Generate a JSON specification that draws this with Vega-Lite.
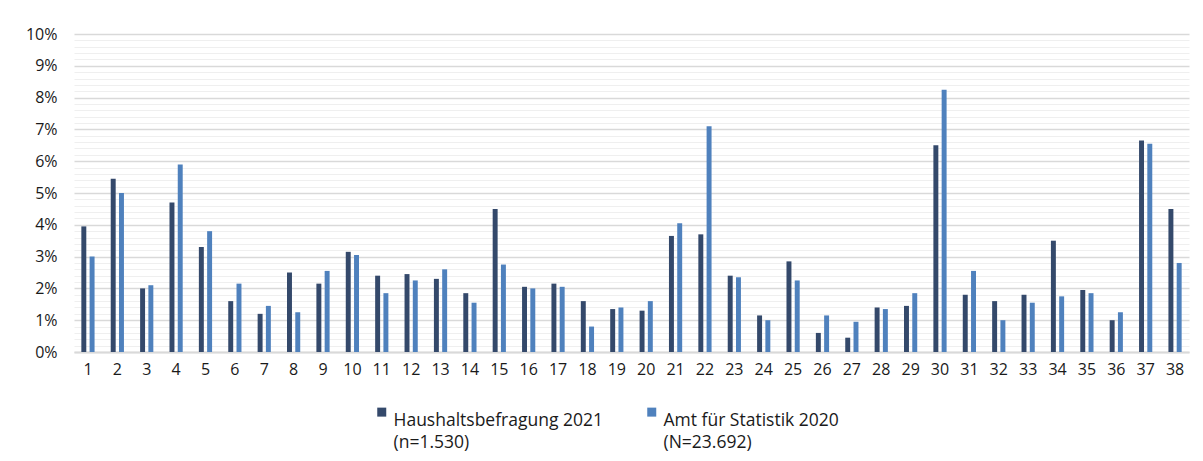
{
  "$schema": "https://vega.github.io/schema/vega-lite/v6.json",
  "width": 1115,
  "height": 318,
  "autosize": {"type": "none"},
  "padding": {"left": 74, "top": 34, "right": 14, "bottom": 109},
  "background": "white",
  "config": {
    "font": "Open Sans",
    "view": {"stroke": null},
    "axis": {"labelFont": "Open Sans", "labelColor": "#1a1a1a", "labelFontSize": 16},
    "legend": {"labelFont": "Open Sans", "labelColor": "#1a1a1a", "labelFontSize": 17.5}
  },
  "datasets": {
    "anteile": [
      {"k": 1, "serie": "Haushaltsbefragung 2021|(n=1.530)", "v": 0.0395},
      {"k": 1, "serie": "Amt für Statistik 2020|(N=23.692)", "v": 0.030},
      {"k": 2, "serie": "Haushaltsbefragung 2021|(n=1.530)", "v": 0.0545},
      {"k": 2, "serie": "Amt für Statistik 2020|(N=23.692)", "v": 0.050},
      {"k": 3, "serie": "Haushaltsbefragung 2021|(n=1.530)", "v": 0.020},
      {"k": 3, "serie": "Amt für Statistik 2020|(N=23.692)", "v": 0.021},
      {"k": 4, "serie": "Haushaltsbefragung 2021|(n=1.530)", "v": 0.047},
      {"k": 4, "serie": "Amt für Statistik 2020|(N=23.692)", "v": 0.059},
      {"k": 5, "serie": "Haushaltsbefragung 2021|(n=1.530)", "v": 0.033},
      {"k": 5, "serie": "Amt für Statistik 2020|(N=23.692)", "v": 0.038},
      {"k": 6, "serie": "Haushaltsbefragung 2021|(n=1.530)", "v": 0.016},
      {"k": 6, "serie": "Amt für Statistik 2020|(N=23.692)", "v": 0.0215},
      {"k": 7, "serie": "Haushaltsbefragung 2021|(n=1.530)", "v": 0.012},
      {"k": 7, "serie": "Amt für Statistik 2020|(N=23.692)", "v": 0.0145},
      {"k": 8, "serie": "Haushaltsbefragung 2021|(n=1.530)", "v": 0.025},
      {"k": 8, "serie": "Amt für Statistik 2020|(N=23.692)", "v": 0.0125},
      {"k": 9, "serie": "Haushaltsbefragung 2021|(n=1.530)", "v": 0.0215},
      {"k": 9, "serie": "Amt für Statistik 2020|(N=23.692)", "v": 0.0255},
      {"k": 10, "serie": "Haushaltsbefragung 2021|(n=1.530)", "v": 0.0315},
      {"k": 10, "serie": "Amt für Statistik 2020|(N=23.692)", "v": 0.0305},
      {"k": 11, "serie": "Haushaltsbefragung 2021|(n=1.530)", "v": 0.024},
      {"k": 11, "serie": "Amt für Statistik 2020|(N=23.692)", "v": 0.0185},
      {"k": 12, "serie": "Haushaltsbefragung 2021|(n=1.530)", "v": 0.0245},
      {"k": 12, "serie": "Amt für Statistik 2020|(N=23.692)", "v": 0.0225},
      {"k": 13, "serie": "Haushaltsbefragung 2021|(n=1.530)", "v": 0.023},
      {"k": 13, "serie": "Amt für Statistik 2020|(N=23.692)", "v": 0.026},
      {"k": 14, "serie": "Haushaltsbefragung 2021|(n=1.530)", "v": 0.0185},
      {"k": 14, "serie": "Amt für Statistik 2020|(N=23.692)", "v": 0.0155},
      {"k": 15, "serie": "Haushaltsbefragung 2021|(n=1.530)", "v": 0.045},
      {"k": 15, "serie": "Amt für Statistik 2020|(N=23.692)", "v": 0.0275},
      {"k": 16, "serie": "Haushaltsbefragung 2021|(n=1.530)", "v": 0.0205},
      {"k": 16, "serie": "Amt für Statistik 2020|(N=23.692)", "v": 0.020},
      {"k": 17, "serie": "Haushaltsbefragung 2021|(n=1.530)", "v": 0.0215},
      {"k": 17, "serie": "Amt für Statistik 2020|(N=23.692)", "v": 0.0205},
      {"k": 18, "serie": "Haushaltsbefragung 2021|(n=1.530)", "v": 0.016},
      {"k": 18, "serie": "Amt für Statistik 2020|(N=23.692)", "v": 0.008},
      {"k": 19, "serie": "Haushaltsbefragung 2021|(n=1.530)", "v": 0.0135},
      {"k": 19, "serie": "Amt für Statistik 2020|(N=23.692)", "v": 0.014},
      {"k": 20, "serie": "Haushaltsbefragung 2021|(n=1.530)", "v": 0.013},
      {"k": 20, "serie": "Amt für Statistik 2020|(N=23.692)", "v": 0.016},
      {"k": 21, "serie": "Haushaltsbefragung 2021|(n=1.530)", "v": 0.0365},
      {"k": 21, "serie": "Amt für Statistik 2020|(N=23.692)", "v": 0.0405},
      {"k": 22, "serie": "Haushaltsbefragung 2021|(n=1.530)", "v": 0.037},
      {"k": 22, "serie": "Amt für Statistik 2020|(N=23.692)", "v": 0.071},
      {"k": 23, "serie": "Haushaltsbefragung 2021|(n=1.530)", "v": 0.024},
      {"k": 23, "serie": "Amt für Statistik 2020|(N=23.692)", "v": 0.0235},
      {"k": 24, "serie": "Haushaltsbefragung 2021|(n=1.530)", "v": 0.0115},
      {"k": 24, "serie": "Amt für Statistik 2020|(N=23.692)", "v": 0.010},
      {"k": 25, "serie": "Haushaltsbefragung 2021|(n=1.530)", "v": 0.0285},
      {"k": 25, "serie": "Amt für Statistik 2020|(N=23.692)", "v": 0.0225},
      {"k": 26, "serie": "Haushaltsbefragung 2021|(n=1.530)", "v": 0.006},
      {"k": 26, "serie": "Amt für Statistik 2020|(N=23.692)", "v": 0.0115},
      {"k": 27, "serie": "Haushaltsbefragung 2021|(n=1.530)", "v": 0.0045},
      {"k": 27, "serie": "Amt für Statistik 2020|(N=23.692)", "v": 0.0095},
      {"k": 28, "serie": "Haushaltsbefragung 2021|(n=1.530)", "v": 0.014},
      {"k": 28, "serie": "Amt für Statistik 2020|(N=23.692)", "v": 0.0135},
      {"k": 29, "serie": "Haushaltsbefragung 2021|(n=1.530)", "v": 0.0145},
      {"k": 29, "serie": "Amt für Statistik 2020|(N=23.692)", "v": 0.0185},
      {"k": 30, "serie": "Haushaltsbefragung 2021|(n=1.530)", "v": 0.065},
      {"k": 30, "serie": "Amt für Statistik 2020|(N=23.692)", "v": 0.0825},
      {"k": 31, "serie": "Haushaltsbefragung 2021|(n=1.530)", "v": 0.018},
      {"k": 31, "serie": "Amt für Statistik 2020|(N=23.692)", "v": 0.0255},
      {"k": 32, "serie": "Haushaltsbefragung 2021|(n=1.530)", "v": 0.016},
      {"k": 32, "serie": "Amt für Statistik 2020|(N=23.692)", "v": 0.010},
      {"k": 33, "serie": "Haushaltsbefragung 2021|(n=1.530)", "v": 0.018},
      {"k": 33, "serie": "Amt für Statistik 2020|(N=23.692)", "v": 0.0155},
      {"k": 34, "serie": "Haushaltsbefragung 2021|(n=1.530)", "v": 0.035},
      {"k": 34, "serie": "Amt für Statistik 2020|(N=23.692)", "v": 0.0175},
      {"k": 35, "serie": "Haushaltsbefragung 2021|(n=1.530)", "v": 0.0195},
      {"k": 35, "serie": "Amt für Statistik 2020|(N=23.692)", "v": 0.0185},
      {"k": 36, "serie": "Haushaltsbefragung 2021|(n=1.530)", "v": 0.010},
      {"k": 36, "serie": "Amt für Statistik 2020|(N=23.692)", "v": 0.0125},
      {"k": 37, "serie": "Haushaltsbefragung 2021|(n=1.530)", "v": 0.0665},
      {"k": 37, "serie": "Amt für Statistik 2020|(N=23.692)", "v": 0.0655},
      {"k": 38, "serie": "Haushaltsbefragung 2021|(n=1.530)", "v": 0.045},
      {"k": 38, "serie": "Amt für Statistik 2020|(N=23.692)", "v": 0.028}
    ]
  },
  "data": {"name": "anteile"},
  "layer": [
    {
      "mark": {"type": "bar", "opacity": 0},
      "encoding": {
        "x": {"field": "k", "type": "ordinal", "scale": {"paddingInner": 0.55, "paddingOuter": 0.25},
              "axis": {"title": null, "labelAngle": 0, "ticks": false, "labelPadding": 9, "domainColor": "#d9d9d9", "domainWidth": 2}},
        "y": {"field": "v", "type": "quantitative", "scale": {"domain": [0, 0.1]},
              "axis": {"orient": "left", "title": null, "labels": false, "ticks": false, "domain": false,
                       "values": [0.002,0.004,0.006,0.008,0.012,0.014,0.016,0.018,0.022,0.024,0.026,0.028,0.032,0.034,0.036,0.038,0.042,0.044,0.046,0.048,0.052,0.054,0.056,0.058,0.062,0.064,0.066,0.068,0.072,0.074,0.076,0.078,0.082,0.084,0.086,0.088,0.092,0.094,0.096,0.098],
                       "grid": true, "gridColor": "#efefef", "gridWidth": 1}}
      }
    },
    {
      "mark": {"type": "bar"},
      "encoding": {
        "x": {"field": "k", "type": "ordinal", "scale": {"paddingInner": 0.55, "paddingOuter": 0.25},
              "axis": {"title": null, "labelAngle": 0, "ticks": false, "labelPadding": 9, "domainColor": "#d9d9d9", "domainWidth": 2}},
        "xOffset": {"field": "serie", "type": "nominal", "sort": ["Haushaltsbefragung 2021|(n=1.530)", "Amt für Statistik 2020|(N=23.692)"], "scale": {"paddingInner": 0.4}},
        "y": {"field": "v", "type": "quantitative", "scale": {"domain": [0, 0.1]},
              "axis": {"orient": "left", "title": null, "format": ".0%", "values": [0,0.01,0.02,0.03,0.04,0.05,0.06,0.07,0.08,0.09,0.1],
                       "ticks": false, "domain": false, "labelPadding": 17, "grid": true, "gridColor": "#d9d9d9", "gridWidth": 1.5}},
        "color": {"field": "serie", "type": "nominal",
                  "scale": {"domain": ["Haushaltsbefragung 2021|(n=1.530)", "Amt für Statistik 2020|(N=23.692)"], "range": ["#34496b", "#4f81bd"]},
                  "legend": {"title": null, "orient": "none", "legendX": 299, "legendY": 369, "padding": 0, "direction": "horizontal", "symbolType": "square", "symbolSize": 81,
                             "labelExpr": "split(datum.label, '|')", "columnPadding": 40, "labelLimit": 400, "labelBaseline": "top", "labelOffset": 3,
                             "encode": {"labels": {"update": {"lineHeight": {"value": 22}}}}}}
      }
    }
  ],
  "resolve": {"axis": {"y": "independent"}}
}
